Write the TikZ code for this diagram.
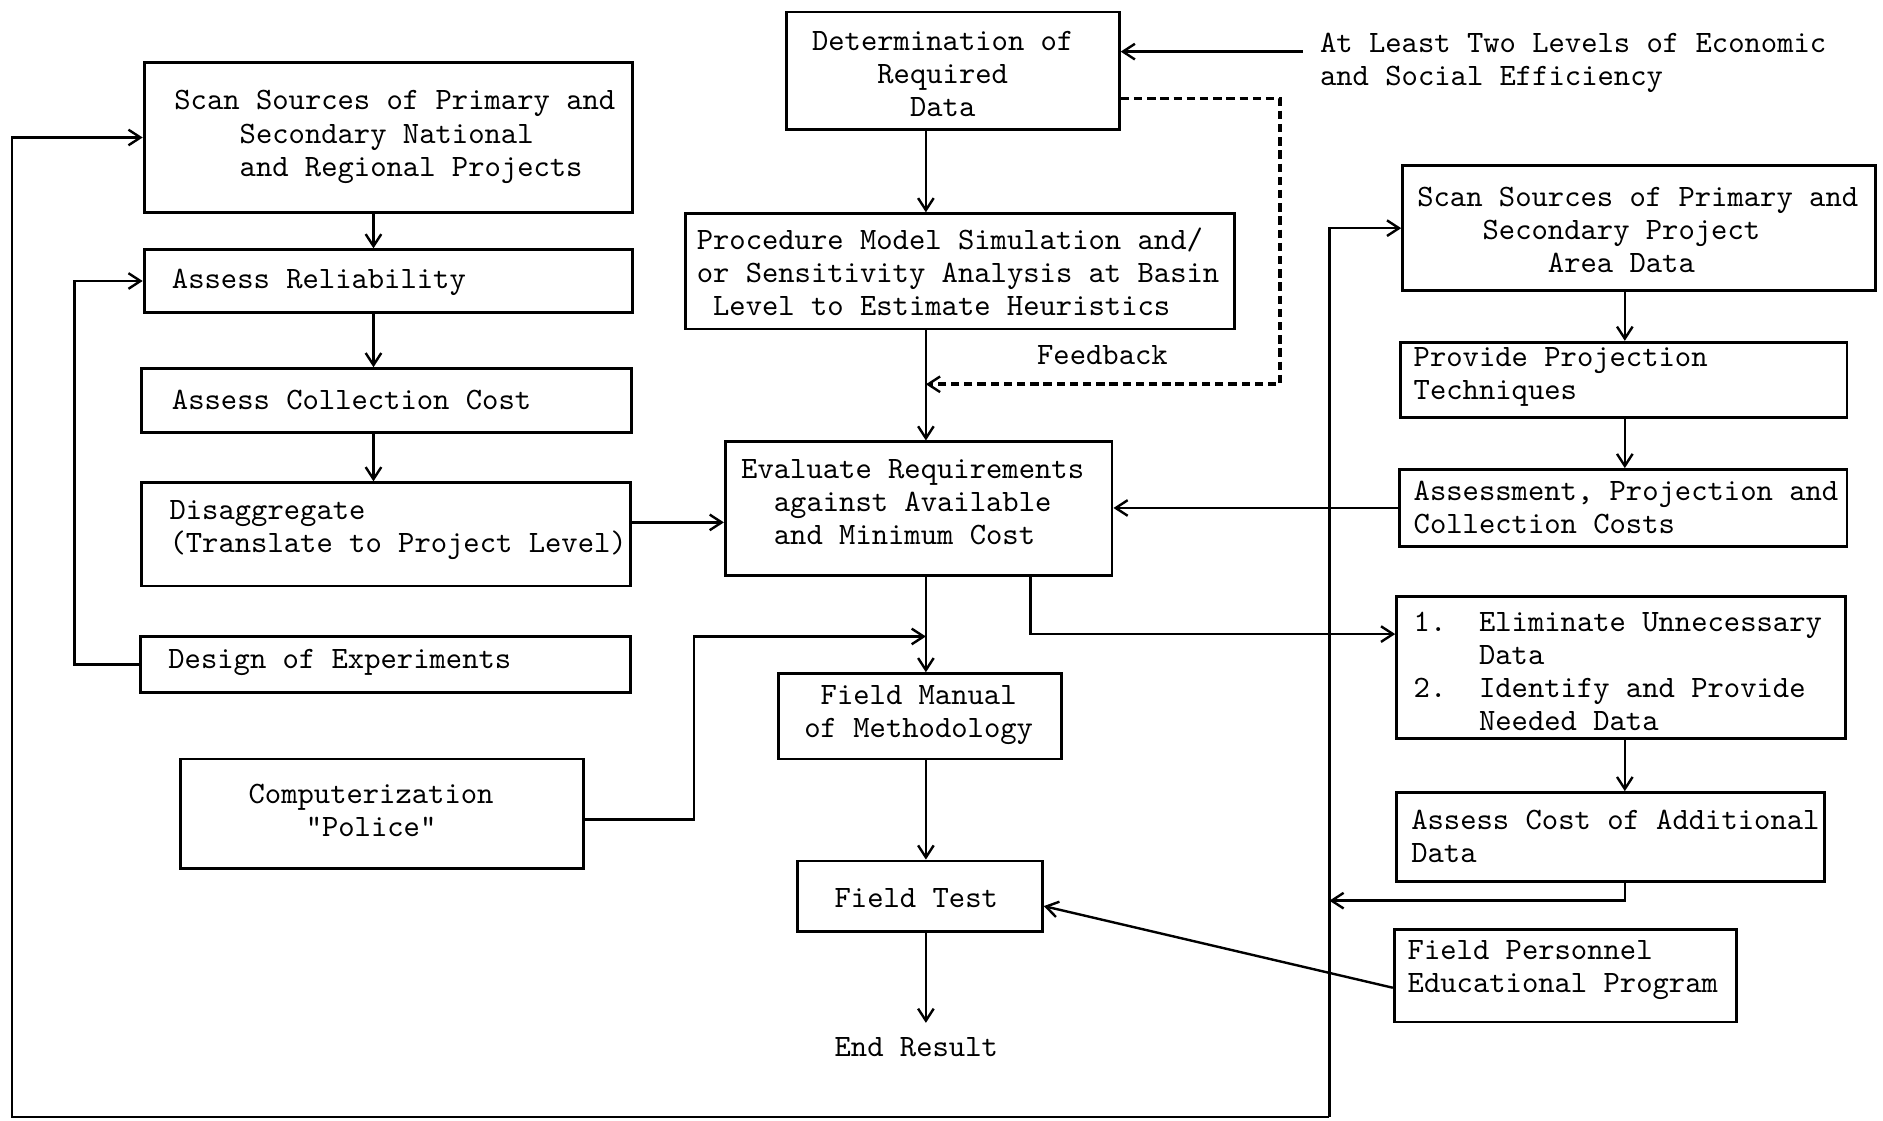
\documentclass[tikz,border=0pt]{standalone}
\usepackage{fontspec}
\usetikzlibrary{arrows.meta}
\newfontfamily\typewriter{lmmono10-regular.otf}[BoldFeatures={FakeBold=1.6}]
\newcommand{\tdfont}{\fontsize{25.9}{27.5}\selectfont\typewriter\bfseries}
\begin{document}
\begin{tikzpicture}[x=1pt,y=-1pt,
  box/.style={draw, line width=2.4pt, inner sep=0pt},
  txt/.style={font=\tdfont, inner sep=0pt, align=left, anchor=west},
  ctxt/.style={font=\tdfont, inner sep=0pt, align=center},
  arr/.style={line width=2pt, -{Straight Barb[length=10pt,width=13pt]}},
  fb/.style={line width=3pt, dash pattern=on 7pt off 4pt, -{Straight Barb[length=10pt,width=13pt,line width=2pt]}}]
\fill[white] (0,0) rectangle (1568,933);
\useasboundingbox (0,0) rectangle (1568,933);

% routing columns
\coordinate (colL) at (311,0);
\coordinate (colM) at (771,0);
\coordinate (colR) at (1353,0);
\coordinate (loopL) at (62,0);
\coordinate (loopO) at (10,0);
\coordinate (busR) at (1107,0);
\coordinate (hx) at (858,0);
\coordinate (bottom) at (0,930);
\coordinate (fa) at (1085,43);
\coordinate (fbc) at (1066,320);
\coordinate (kturn) at (578,530);
\coordinate (pret) at (1353,750);

% left column
\node[box, minimum width=407pt, minimum height=125pt] (A) at (323.5,114.5) {};
\node[txt] (At) at (145,114) {Scan Sources of Primary and\\\hphantom{xxxx}Secondary National\\\hphantom{xxxx}and Regional Projects};
\node[box, minimum width=407pt, minimum height=52pt] (B) at (323.5,234) {};
\node[txt] (Bt) at (143,235) {Assess Reliability};
\node[box, minimum width=408pt, minimum height=53pt] (C) at (322,333.5) {};
\node[txt] (Ct) at (143,333) {Assess Collection Cost};
\node[box, minimum width=407pt, minimum height=86pt] (D) at (321.5,445) {};
\node[txt] (Dt) at (141,441) {Disaggregate\\(Translate to Project Level)};
\node[box, minimum width=408pt, minimum height=47pt] (E) at (321,553.5) {};
\node[txt] (Et) at (140,552) {Design of Experiments};
\node[box, minimum width=336pt, minimum height=91pt] (K) at (318,677.5) {};
\node[ctxt] (Kt) at (309,674.5) {Computerization\\"Police"};

% centre column
\node[box, minimum width=277pt, minimum height=98pt] (F) at (793.5,59) {};
\node[ctxt] (Ft) at (785,62) {Determination of\\Required\\Data};
\node[txt] (Lt) at (1099,52) {At Least Two Levels of Economic\\and Social Efficiency};
\node[box, minimum width=457pt, minimum height=96pt] (G) at (799.5,226) {};
\node[txt] (Gt) at (580,226.5) {Procedure Model Simulation and/\\or Sensitivity Analysis at Basin\\\hphantom{x}Level to Estimate Heuristics};
\node[box, minimum width=322pt, minimum height=111pt] (H) at (765,423.5) {};
\node[txt] (Ht) at (617,418) {Evaluate Requirements\\\hphantom{xx}against Available\\\hphantom{xx}and Minimum Cost};
\node[box, minimum width=236pt, minimum height=71pt] (I) at (766,596.5) {};
\node[ctxt] (It) at (765,595.5) {Field Manual\\of Methodology};
\node[box, minimum width=204pt, minimum height=59pt] (J) at (766,746.5) {};
\node[ctxt] (Jt) at (763,748) {Field Test};
\node[ctxt] (End) at (763,872) {End Result};
\node[ctxt] (Fb) at (918,296) {Feedback};

% right column
\node[box, minimum width=394pt, minimum height=104pt] (L) at (1365,190) {};
\node[txt] (Ltx) at (1180,191.5) {Scan Sources of Primary and\\\hphantom{xxxx}Secondary Project\\\hphantom{xxxxxxxx}Area Data};
\node[box, minimum width=372pt, minimum height=63pt] (M) at (1352,316.5) {};
\node[txt] (Mt) at (1177,314) {Provide Projection\\Techniques};
\node[box, minimum width=373pt, minimum height=64pt] (N) at (1351.5,423) {};
\node[txt] (Nt) at (1177,422.5) {Assessment, Projection and\\Collection Costs};
\node[box, minimum width=374pt, minimum height=118pt] (O) at (1350,556) {};
\node[txt] (Ot) at (1177,559) {1.\hphantom{xx}Eliminate Unnecessary\\\hphantom{xxxx}Data\\2.\hphantom{xx}Identify and Provide\\\hphantom{xxxx}Needed Data};
\node[box, minimum width=356pt, minimum height=74pt] (P) at (1341,697) {};
\node[txt] (Pt) at (1175,696.5) {Assess Cost of Additional\\Data};
\node[box, minimum width=285pt, minimum height=77pt] (Q) at (1303.5,812.5) {};
\node[txt] (Qt) at (1172,808) {Field Personnel\\Educational Program};

% left column flow
\draw[arr] (colL |- A.south) -- (colL |- B.north);
\draw[arr] (colL |- B.south) -- (colL |- C.north);
\draw[arr] (colL |- C.south) -- (colL |- D.north);
\draw[arr] (E.west) -- (loopL |- E.west) -- (loopL |- B.west) -- (B.west);
\draw[arr] ([yshift=10pt]D.east) -- ([yshift=10pt]D.east -| H.west);

% outer loop feeding both scan boxes
\draw[arr] (busR |- bottom) -- (loopO |- bottom) -- (loopO |- A.west) -- (A.west);
\draw[arr] (busR |- bottom) -- (busR |- L.west) -- (L.west);

% centre column flow
\draw[arr] (fa) -- (F.east |- fa);
\draw[fb] ([yshift=-23pt]F.east) -| (fbc) -- (colM |- fbc);
\draw[arr] (colM |- F.south) -- (colM |- G.north);
\draw[arr] (colM |- G.south) -- (colM |- H.north);
\draw[arr] (colM |- H.south) -- (colM |- I.north);
\draw[arr] ([yshift=-5pt]K.east) -| (kturn) -- (colM |- kturn);
\draw[arr] (colM |- I.south) -- (colM |- J.north);
\draw[arr] (colM |- J.south) -- ([yshift=12pt]colM |- End.north);
\draw[arr] (hx |- H.south) |- ([yshift=28pt]O.west);
\draw[arr] (N.west) -- (N.west -| H.east);

% right column flow
\draw[arr] (colR |- L.south) -- (colR |- M.north);
\draw[arr] (colR |- M.south) -- (colR |- N.north);
\draw[arr] (colR |- O.south) -- (colR |- P.north);
\draw[arr] (colR |- P.south) -- (pret) -- (busR |- pret);
\draw[arr] ([yshift=-10pt]Q.west) -- ([yshift=-8pt]J.east);
\end{tikzpicture}
\end{document}
